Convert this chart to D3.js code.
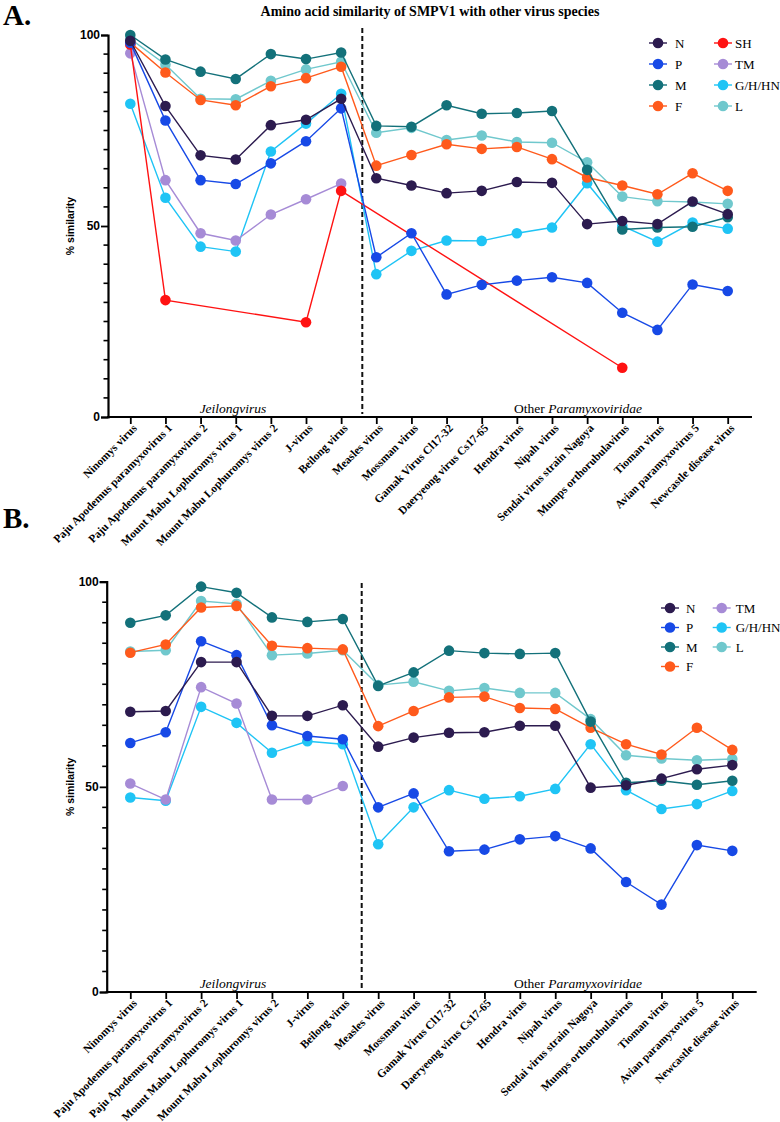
<!DOCTYPE html>
<html><head><meta charset="utf-8">
<script src="https://cdn.jsdelivr.net/npm/d3@7"></script>
<style>body{margin:0;background:#fff}svg{display:block}</style>
</head><body>
<svg id="chart" width="780" height="1122"></svg>
<script>
const categories = ["Ninomys virus","Paju Apodemus paramyxovirus 1","Paju Apodemus paramyxovirus 2","Mount Mabu Lophuromys virus 1","Mount Mabu Lophuromys virus 2","J-virus","Beilong virus","Measles virus","Mossman virus","Gamak Virus Cl17-32","Daeryeong virus Cs17-65","Hendra virus","Nipah virus","Sendai virus strain Nagoya","Mumps orthorubulavirus","Tioman virus","Avian paramyxovirus 5","Newcastle disease virus"];
const yTicks = [0, 50, 100];
const title = "Amino acid similarity of SMPV1 with other virus species";

// Panel A values
const a_N  = [98.5,81.4,68.5,67.4,76.4,77.8,83.3,62.5,60.6,58.6,59.2,61.5,61.3,50.5,51.3,50.5,56.4,53.1];
const a_P  = [98,77.6,62,61,66.4,72.2,80.8,41.8,48.1,32.1,34.6,35.7,36.6,35.1,27.3,22.8,34.7,33];
const a_M  = [100,93.6,90.4,88.5,95,93.7,95.4,76.2,76,81.6,79.4,79.6,80.1,64.7,49.1,49.6,49.8,52.3];
const a_F  = [98,90.2,83,81.6,86.6,88.7,91.7,65.8,68.6,71.4,70.2,70.7,67.5,62.7,60.6,58.3,63.8,59.2];
const a_SH = [97.5,30.6,null,null,null,24.8,59.2,null,null,null,null,null,null,null,12.9,null,null,null];
const a_TM = [95.2,62,48.1,46.2,53,57,61.1,null,null,null,null,null,null,null,null,null,null,null];
const a_G  = [82,57.4,44.6,43.3,69.5,76.8,84.6,37.4,43.5,46.2,46.1,48.1,49.6,61.2,50,45.9,50.9,49.3];
const a_L  = [99,92.3,83.3,83.2,88,91,93,74.4,75.7,72.5,73.7,72,71.8,66.7,57.7,56.5,56.3,55.8];

// Panel B values
const b_N  = [68.3,68.5,80.4,80.4,67.3,67.3,69.9,59.8,62,63.2,63.3,64.9,64.9,49.8,50.4,52,54.3,55.3];
const b_P  = [60.7,63.3,85.5,82.1,65,62.4,61.6,45,48.4,34.3,34.7,37.2,38,35,26.8,21.3,35.8,34.4];
const b_M  = [90,91.8,98.8,97.3,91.3,90.2,90.9,74.6,77.9,83.2,82.6,82.4,82.6,65.9,51,51.5,50.5,51.5];
const b_F  = [82.7,84.7,93.7,94.1,84.4,83.8,83.5,64.8,68.5,71.8,72,69.2,69,64.4,60.4,57.9,64.4,59];
const b_TM = [50.8,46.9,74.3,70.3,46.9,46.9,50.2,null,null,null,null,null,null,null,null,null,null,null];
const b_G  = [47.4,46.6,69.5,65.6,58.3,61.1,60.4,36,45,49.2,47.1,47.7,49.5,60.4,49.2,44.6,45.8,49];
const b_L  = [83,83.3,95.3,94.6,82.1,82.5,83.3,74.8,75.6,73.4,74.1,72.9,72.9,66.5,57.7,56.9,56.5,56.8];

const colors = {N:"#2c1b4f",P:"#1749e6",M:"#13717a",F:"#ff5a1c",SH:"#ff1212",TM:"#a68bd6","G/H/HN":"#1fc4f5",L:"#70c8cd"};

const svg = d3.select("#chart");

svg.append("text").attr("x",430).attr("y",16).attr("text-anchor","middle")
  .attr("font-family","Liberation Serif").attr("font-weight","bold").attr("font-size",14).text(title);

function drawPanel(p){
  const g = svg.append("g");
  const x = d3.scalePoint().domain(categories).range([p.x0,p.x1]);
  const y = d3.scaleLinear().domain([0,100]).range([p.yBottom,p.yTop]);

  g.append("text").attr("x",p.letterX).attr("y",p.letterY).attr("font-family","Liberation Serif")
    .attr("font-weight","bold").attr("font-size",29).text(p.letter);

  // dashed separator
  g.append("line").attr("x1",p.dashX).attr("x2",p.dashX).attr("y1",p.dashY0).attr("y2",p.dashY1)
    .attr("stroke","#111").attr("stroke-width",2).attr("stroke-dasharray","5,3");

  // series in draw order
  const lineGen = d3.line().defined(d=>d.v!=null).x(d=>x(d.c)).y(d=>y(d.v));
  p.series.forEach(s=>{
    const pts = categories.map((c,i)=>({c, v:s.values[i]})).filter(d=>d.v!=null);
    g.append("path").datum(pts).attr("d",lineGen).attr("fill","none")
      .attr("stroke",colors[s.name]).attr("stroke-width",1.4);
    g.selectAll(null).data(pts).enter().append("circle")
      .attr("cx",d=>x(d.c)).attr("cy",d=>y(d.v)).attr("r",5.3).attr("fill",colors[s.name]);
  });

  // y axis
  const minor = d3.range(0,101,5).filter(v=>v%50!==0);
  g.selectAll(null).data(minor).enter().append("line")
    .attr("x1",p.axisX-4.5).attr("x2",p.axisX).attr("y1",d=>y(d)).attr("y2",d=>y(d))
    .attr("stroke","#000").attr("stroke-width",1.6);
  const yAx = g.append("g").attr("transform",`translate(${p.axisX},0)`)
    .call(d3.axisLeft(y).tickValues(yTicks).tickSize(7).tickFormat(d3.format("d")));
  yAx.select(".domain").attr("stroke-width",2.2);
  yAx.selectAll(".tick line").attr("stroke-width",1.8);
  yAx.selectAll(".tick text").attr("font-family","Liberation Sans").attr("font-weight","bold")
    .attr("font-size",12).attr("x",-8).attr("fill","#000");

  // x axis
  g.append("line").attr("x1",p.axisX-1).attr("x2",p.axisEnd).attr("y1",p.yBottom).attr("y2",p.yBottom)
    .attr("stroke","#000").attr("stroke-width",2.2);
  const xAx = g.append("g").attr("transform",`translate(0,${p.yBottom})`)
    .call(d3.axisBottom(x).tickSize(7));
  xAx.select(".domain").remove();
  xAx.selectAll(".tick line").attr("stroke-width",1.8);
  xAx.selectAll(".tick text").attr("font-family","Liberation Serif").attr("font-weight","bold")
    .attr("font-size",11.4).attr("fill","#000").attr("text-anchor","end")
    .attr("transform","translate(4,9) rotate(-45)").attr("x",0).attr("y",0).attr("dy","0.35em");

  // y label
  g.append("text").attr("transform",`translate(${p.ylabX},${y(50)}) rotate(-90)`).attr("text-anchor","middle")
    .attr("font-family","Liberation Sans").attr("font-weight","bold").attr("font-size",10.5)
    .attr("dy","0.35em").text("% similarity");

  // group labels
  g.append("text").attr("x",233).attr("y",p.yBottom-4).attr("text-anchor","middle")
    .attr("font-family","Liberation Serif").attr("font-style","italic").attr("font-size",13.5).text("Jeilongvirus");
  const t = g.append("text").attr("x",578).attr("y",p.yBottom-4).attr("text-anchor","middle")
    .attr("font-family","Liberation Serif").attr("font-size",13.5);
  t.append("tspan").text("Other ");
  t.append("tspan").attr("font-style","italic").text("Paramyxoviridae");

  // legend
  p.legend.forEach(l=>{
    const lg = g.append("g").attr("transform",`translate(${l.x},${l.y})`);
    lg.append("line").attr("x1",-9).attr("x2",9).attr("stroke",colors[l.name]).attr("stroke-width",1.4);
    lg.append("circle").attr("r",5.3).attr("fill",colors[l.name]);
    lg.append("text").attr("x",l.tx).attr("dy","0.35em").attr("font-family","Liberation Serif")
      .attr("font-size",13).text(l.name);
  });
}

drawPanel({
  letter:"A.", letterX:3, letterY:25,
  x0:130.3, x1:727.7, axisX:108, axisEnd:752, yBottom:417, yTop:35,
  dashX:362.3, dashY0:28, dashY1:414, ylabX:70,
  series:[{name:"L",values:a_L},{name:"G/H/HN",values:a_G},{name:"TM",values:a_TM},{name:"SH",values:a_SH},
          {name:"F",values:a_F},{name:"M",values:a_M},{name:"P",values:a_P},{name:"N",values:a_N}],
  legend:[{name:"N",x:658,y:43,tx:17},{name:"P",x:658,y:64,tx:17},{name:"M",x:658,y:85,tx:17},{name:"F",x:658,y:106,tx:17},
          {name:"SH",x:723,y:43,tx:12},{name:"TM",x:723,y:64,tx:12},{name:"G/H/HN",x:723,y:85,tx:12},{name:"L",x:723,y:106,tx:12}]
});

drawPanel({
  letter:"B.", letterX:3, letterY:528,
  x0:130.3, x1:732.3, axisX:106.7, axisEnd:756.7, yBottom:992, yTop:581.7,
  dashX:361.7, dashY0:583, dashY1:990, ylabX:70,
  series:[{name:"L",values:b_L},{name:"G/H/HN",values:b_G},{name:"TM",values:b_TM},
          {name:"F",values:b_F},{name:"M",values:b_M},{name:"P",values:b_P},{name:"N",values:b_N}],
  legend:[{name:"N",x:670,y:608,tx:16},{name:"P",x:670,y:627.5,tx:16},{name:"M",x:670,y:647,tx:16},{name:"F",x:670,y:666.5,tx:16},
          {name:"TM",x:721.7,y:608,tx:14},{name:"G/H/HN",x:721.7,y:627.5,tx:14},{name:"L",x:721.7,y:647,tx:14}]
});
</script>
</body></html>
